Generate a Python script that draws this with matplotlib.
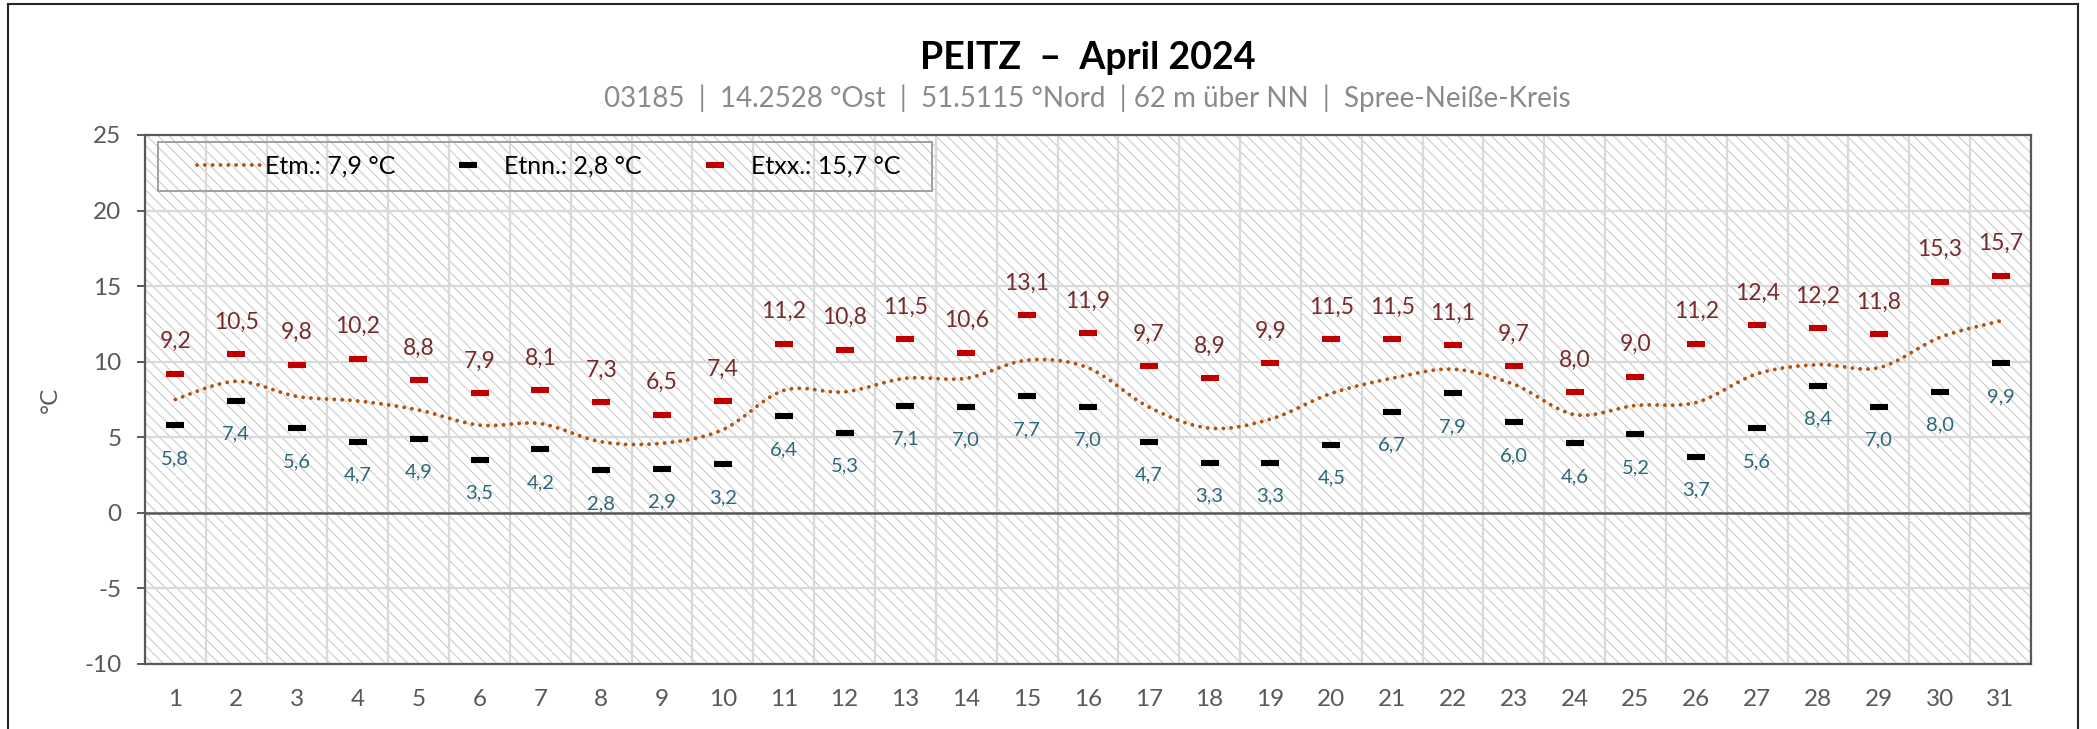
import matplotlib.pyplot as plt
import matplotlib.patches as mpatches
from matplotlib.lines import Line2D
from matplotlib.path import Path
import numpy as np

plt.rcParams['font.family'] = ['Lato', 'DejaVu Sans']
plt.rcParams['hatch.linewidth'] = 0.8
plt.rcParams['axes.unicode_minus'] = False

# daily values, April 2024, Peitz
days = list(range(1, 32))
t_max = [9.2, 10.5, 9.8, 10.2, 8.8, 7.9, 8.1, 7.3, 6.5, 7.4,
         11.2, 10.8, 11.5, 10.6, 13.1, 11.9, 9.7, 8.9, 9.9, 11.5,
         11.5, 11.1, 9.7, 8.0, 9.0, 11.2, 12.4, 12.2, 11.8, 15.3, 15.7]
t_min = [5.8, 7.4, 5.6, 4.7, 4.9, 3.5, 4.2, 2.8, 2.9, 3.2,
         6.4, 5.3, 7.1, 7.0, 7.7, 7.0, 4.7, 3.3, 3.3, 4.5,
         6.7, 7.9, 6.0, 4.6, 5.2, 3.7, 5.6, 8.4, 7.0, 8.0, 9.9]
t_mean = [7.5, 8.7, 7.7, 7.4, 6.8, 5.8, 5.9, 4.7, 4.6, 5.5,
          8.1, 8.0, 8.9, 8.9, 10.1, 9.6, 7.0, 5.6, 6.2, 7.9,
          8.9, 9.5, 8.5, 6.5, 7.1, 7.3, 9.2, 9.8, 9.6, 11.6, 12.7]

title = "PEITZ  \u2013  April 2024"
subtitle = "03185  |  14.2528 °Ost  |  51.5115 °Nord  | 62 m über NN  |  Spree-Neiße-Kreis"

c_max = '#c00000'
c_max_lbl = '#772b2b'
c_min = '#000000'
c_min_lbl = '#2d6777'
c_mean = '#b4530f'
c_grey = '#595959'


def de(v):
    return f"{v:.1f}".replace('.', ',')


fig = plt.figure(figsize=(20.97, 7.29), dpi=100)
ax = fig.add_axes([0.0691, 0.0892, 0.8994, 0.7257])
ax.set_xlim(0.5, 31.5)
ax.set_ylim(-10, 25)

# hatched background
hatch = mpatches.Rectangle((0, 0), 1, 1, transform=ax.transAxes, facecolor='none',
                           edgecolor='#cccccc', linewidth=0, hatch='\\\\\\', zorder=0.2)
ax.add_patch(hatch)

# grid
ax.set_xticks(days)
ax.set_xticks(np.arange(0.5, 32, 1), minor=True)
ax.set_yticks(range(-10, 26, 5))
ax.grid(True, which='minor', axis='x', color='#d9d9d9', linewidth=1.6, zorder=0.5)
ax.grid(True, which='major', axis='y', color='#d9d9d9', linewidth=1.6, zorder=0.5)
ax.set_axisbelow(True)
ax.axhline(0, color=c_grey, linewidth=1.8, zorder=1)

for s in ax.spines.values():
    s.set_color(c_grey)
    s.set_linewidth(1.6)

ax.tick_params(axis='x', which='both', length=0, pad=18, labelsize=17.5, labelcolor=c_grey)
ax.tick_params(axis='y', which='major', length=6, width=1.4, color=c_grey, pad=11,
               labelsize=17.5, labelcolor=c_grey)
ax.set_ylabel('°C', fontsize=17.5, color=c_grey, labelpad=17)

# mean: smoothed dotted line (Bezier path through the daily values)
x = np.array(days, dtype=float)
y = np.array(t_mean)
px = np.concatenate([[x[0]], x, [x[-1]]])
py = np.concatenate([[y[0]], y, [y[-1]]])
verts = [(x[0], y[0])]
codes = [Path.MOVETO]
for i in range(1, len(px) - 2):
    c1 = (px[i] + (px[i + 1] - px[i - 1]) / 6, py[i] + (py[i + 1] - py[i - 1]) / 6)
    c2 = (px[i + 1] - (px[i + 2] - px[i]) / 6, py[i + 1] - (py[i + 2] - py[i]) / 6)
    verts += [c1, c2, (px[i + 1], py[i + 1])]
    codes += [Path.CURVE4] * 3
dot_style = (0, (0.01, 2.0))
mean_patch = mpatches.PathPatch(Path(verts, codes), fill=False, edgecolor=c_mean,
                                linewidth=2.8, linestyle=dot_style, capstyle='round',
                                zorder=3)
ax.add_patch(mean_patch)

ax.plot(days, t_min, linestyle='none', marker='_', markersize=13, markeredgewidth=4.4,
        color=c_min, zorder=4)
ax.plot(days, t_max, linestyle='none', marker='_', markersize=13, markeredgewidth=4.4,
        color=c_max, zorder=4)

for d, v in zip(days, t_max):
    ax.annotate(de(v), (d, v), xytext=(0, 23), textcoords='offset points',
                ha='center', va='center', fontsize=16.5, color=c_max_lbl)
for d, v in zip(days, t_min):
    ax.annotate(de(v), (d, v), xytext=(0, -24), textcoords='offset points',
                ha='center', va='center', fontsize=14.5, color=c_min_lbl)

# legend (frame drawn separately so the inner padding can match)
ax.add_patch(mpatches.Rectangle((0.0069, 0.894), 0.4104, 0.0928, transform=ax.transAxes,
                                facecolor='none', edgecolor='#a0a0a0', linewidth=1.4,
                                zorder=5))
etm = np.mean(t_mean)
etnn = min(t_min)
etxx = max(t_max)
handles = [
    Line2D([], [], color=c_mean, linewidth=2.8, linestyle=dot_style, dash_capstyle='round'),
    Line2D([], [], linestyle='none', marker='_', markersize=13, markeredgewidth=4.4, color=c_min),
    Line2D([], [], linestyle='none', marker='_', markersize=13, markeredgewidth=4.4, color=c_max),
]
labels = [f"Etm.: {de(etm)} °C", f"Etnn.: {de(etnn)} °C", f"Etxx.: {de(etxx)} °C"]
ax.legend(handles, labels, loc='center left', bbox_to_anchor=(0.0274, 0.9404), ncol=3,
          fontsize=18, frameon=False, borderaxespad=0, borderpad=0,
          handlelength=2.6, handletextpad=0.15, columnspacing=1.6)

# titles
fig.text(0.5185, 0.92, title, ha='center', va='center', fontsize=27, fontweight='bold',
         color='black')
fig.text(0.5185, 0.865, subtitle, ha='center', va='center', fontsize=20, color='#8a8a8a')

# outer frame
fx0, fx1, fy1 = 8 / 2097, 2078 / 2097, 1 - 4 / 729
for xs, ys in [([fx0, fx0], [-0.01, fy1]), ([fx0, fx1], [fy1, fy1]), ([fx1, fx1], [fy1, -0.01])]:
    fig.add_artist(Line2D(xs, ys, transform=fig.transFigure, color='#262626', linewidth=1.5))

fig.savefig('out.png', dpi=100)
